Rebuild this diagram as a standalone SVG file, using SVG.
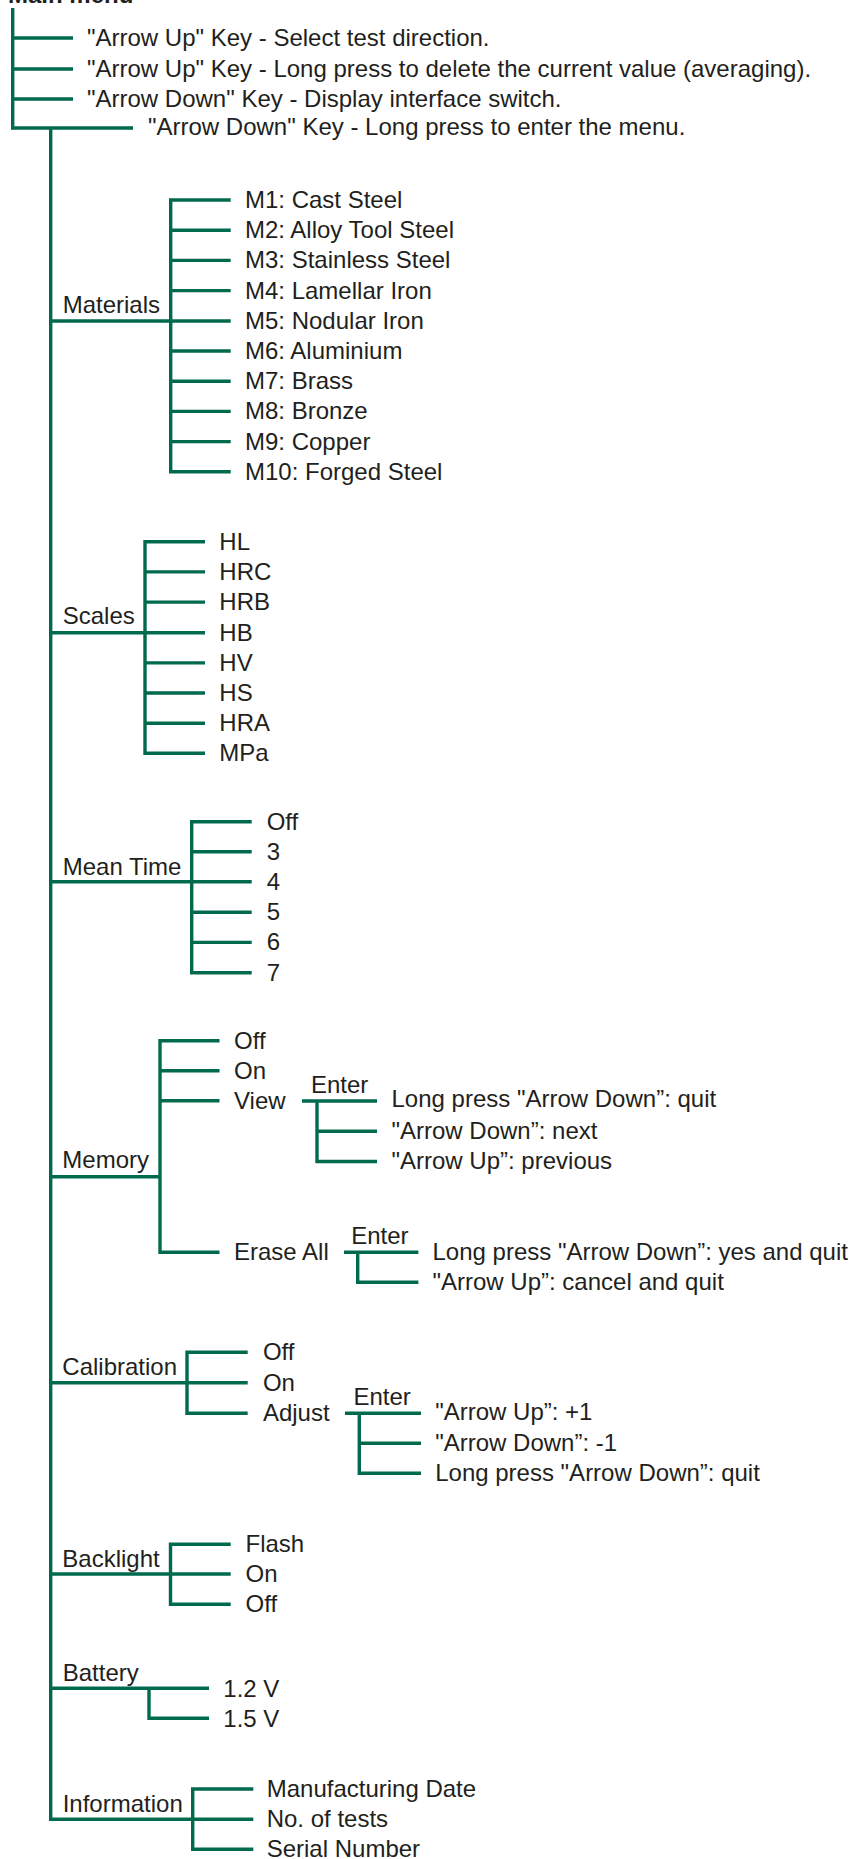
<svg xmlns="http://www.w3.org/2000/svg" width="850" height="1859" viewBox="0 0 850 1859">
<style>
.c{fill:none;stroke:#006a4e;stroke-width:3.4;stroke-linecap:butt;stroke-linejoin:miter}
text{font-family:"Liberation Sans",Arial,Helvetica,sans-serif;font-size:24px;fill:#231f20}
.b{font-weight:bold}
</style>
<rect width="850" height="1859" fill="#ffffff"/>
<g id="connectors" class="c">
<path d="M12.7,8 V128 H133 M12.7,38 H73 M12.7,69 H73 M12.7,99 H73"/>
<path d="M50.7,128 V1819.3 H253.3"/>
<path d="M50.7,321 H170.7 M230.7,200 H170.7 V471.7 H230.7 M170.7,230.2 H230.7 M170.7,260.4 H230.7 M170.7,290.6 H230.7 M170.7,321 H230.7 M170.7,351 H230.7 M170.7,381.2 H230.7 M170.7,411.4 H230.7 M170.7,441.6 H230.7"/>
<path d="M50.7,632.8 H205 M205,541.7 H145 V753.3 H205 M145,571.9 H205 M145,602.1 H205 M145,662.9 H205 M145,693 H205 M145,723.2 H205"/>
<path d="M50.7,881.7 H251.7 M251.7,821.7 H191.7 V972.7 H251.7 M191.7,851.7 H251.7 M191.7,912.3 H251.7 M191.7,942.4 H251.7"/>
<path d="M50.7,1176.7 H160 M219.5,1040.7 H160 V1252.3 H219.5 M160,1070.7 H219.5 M160,1100.7 H219.5"/>
<path d="M302,1101 H377 M317,1101 V1161.5 H377 M317,1131.3 H377"/>
<path d="M344,1252.3 H418.4 M357.7,1252.3 V1282.3 H418.4"/>
<path d="M50.7,1382.7 H247.7 M247.7,1352.3 H187 V1413.3 H247.7"/>
<path d="M345,1413.3 H421 M359.3,1413.3 V1473.3 H421 M359.3,1443.3 H421"/>
<path d="M50.7,1574 H230.7 M230.7,1544.3 H170.5 V1604.3 H230.7"/>
<path d="M50.7,1688.3 H209 M149,1688.3 V1718.3 H209"/>
<path d="M253.3,1789 H192.7 V1849.3 H253.3"/>
</g>
<g id="main-menu"><text class="b" x="8" y="3">Main menu</text></g>
<g id="key1"><text x="87" y="46">"Arrow Up" Key - Select test direction.</text></g>
<g id="key2"><text x="87" y="77">"Arrow Up" Key - Long press to delete the current value (averaging).</text></g>
<g id="key3"><text x="87" y="107">"Arrow Down" Key - Display interface switch.</text></g>
<g id="key4"><text x="148" y="135">"Arrow Down" Key - Long press to enter the menu.</text></g>
<g id="materials">
<text x="62.7" y="313">Materials</text>
<text x="245" y="208">M1: Cast Steel</text>
<text x="245" y="238.2">M2: Alloy Tool Steel</text>
<text x="245" y="268.4">M3: Stainless Steel</text>
<text x="245" y="298.6">M4: Lamellar Iron</text>
<text x="245" y="329">M5: Nodular Iron</text>
<text x="245" y="359">M6: Aluminium</text>
<text x="245" y="389.2">M7: Brass</text>
<text x="245" y="419.4">M8: Bronze</text>
<text x="245" y="449.6">M9: Copper</text>
<text x="245" y="479.7">M10: Forged Steel</text>
</g>
<g id="scales">
<text x="62.7" y="624">Scales</text>
<text x="219.3" y="549.7">HL</text>
<text x="219.3" y="579.9">HRC</text>
<text x="219.3" y="610.1">HRB</text>
<text x="219.3" y="640.8">HB</text>
<text x="219.3" y="670.9">HV</text>
<text x="219.3" y="701">HS</text>
<text x="219.3" y="731.2">HRA</text>
<text x="219.3" y="761.3">MPa</text>
</g>
<g id="mean-time">
<text x="62.7" y="875">Mean Time</text>
<text x="266.7" y="829.7">Off</text>
<text x="266.7" y="859.7">3</text>
<text x="266.7" y="889.7">4</text>
<text x="266.7" y="920.3">5</text>
<text x="266.7" y="950.4">6</text>
<text x="266.7" y="980.7">7</text>
</g>
<g id="memory">
<text x="62.3" y="1168">Memory</text>
<text x="234" y="1048.7">Off</text>
<text x="234" y="1078.7">On</text>
<text x="234" y="1108.7">View</text>
<text x="234" y="1260.3">Erase All</text>
</g>
<g id="memory-view">
<text x="311" y="1093.3">Enter</text>
<text x="391.5" y="1107">Long press "Arrow Down”: quit</text>
<text x="391.5" y="1139">"Arrow Down”: next</text>
<text x="391.5" y="1168.5">"Arrow Up”: previous</text>
</g>
<g id="memory-erase">
<text x="351.2" y="1244">Enter</text>
<text x="432.5" y="1259.5">Long press "Arrow Down”: yes and quit</text>
<text x="432.5" y="1290">"Arrow Up”: cancel and quit</text>
</g>
<g id="calibration">
<text x="62.3" y="1375">Calibration</text>
<text x="262.9" y="1360">Off</text>
<text x="262.9" y="1390.5">On</text>
<text x="262.9" y="1421">Adjust</text>
</g>
<g id="calibration-adjust">
<text x="353.4" y="1405">Enter</text>
<text x="435.2" y="1420">"Arrow Up”: +1</text>
<text x="435.2" y="1451">"Arrow Down”: -1</text>
<text x="435.2" y="1481">Long press "Arrow Down”: quit</text>
</g>
<g id="backlight">
<text x="62.3" y="1566.7">Backlight</text>
<text x="245.5" y="1552.3">Flash</text>
<text x="245.5" y="1582">On</text>
<text x="245.5" y="1612.3">Off</text>
</g>
<g id="battery">
<text x="62.7" y="1680.7">Battery</text>
<text x="223.3" y="1696.5">1.2 V</text>
<text x="223.3" y="1726.5">1.5 V</text>
</g>
<g id="information">
<text x="62.7" y="1811.7">Information</text>
<text x="266.7" y="1797">Manufacturing Date</text>
<text x="266.7" y="1827.3">No. of tests</text>
<text x="266.7" y="1857">Serial Number</text>
</g>
</svg>
